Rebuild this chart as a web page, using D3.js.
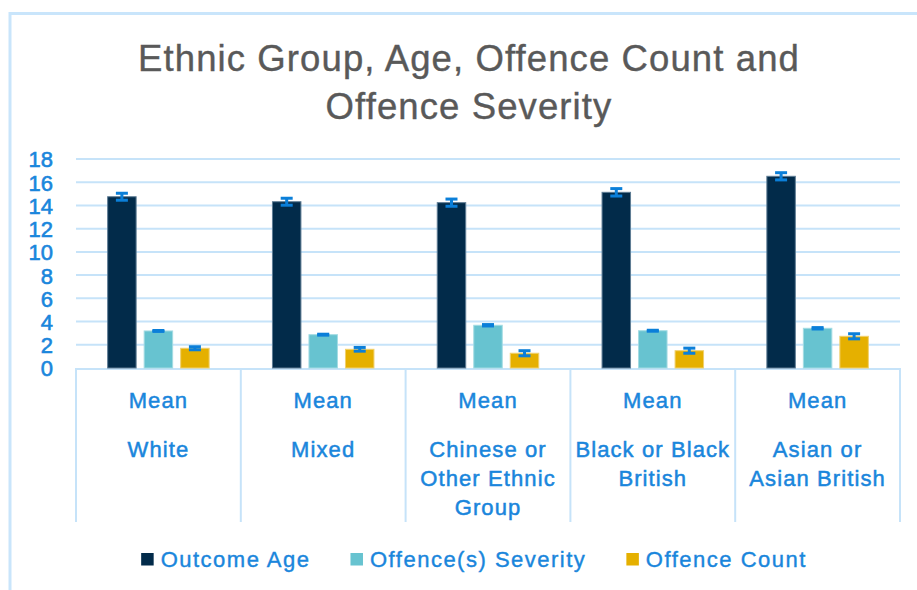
<!DOCTYPE html>
<html>
<head>
<meta charset="utf-8">
<script src="https://cdn.jsdelivr.net/npm/d3@7"></script>
<style>
  html, body { margin: 0; padding: 0; background: #fff; }
  svg { display: block; font-family: "Liberation Sans", Arial, Helvetica, sans-serif; }
</style>
</head>
<body>
<svg id="chart" width="917" height="590"></svg>
<script>
// Ethnic group chart — grouped bars with error bars
const categories = ['White', 'Mixed', 'Chinese or Other Ethnic Group', 'Black or Black British', 'Asian or Asian British'];
const categoryLines = [['White'], ['Mixed'], ['Chinese or', 'Other Ethnic', 'Group'], ['Black or Black', 'British'], ['Asian or', 'Asian British']];
const seriesNames = ['Outcome Age', 'Offence(s) Severity', 'Offence Count'];
const outcomeAge = [14.75, 14.32, 14.24, 15.13, 16.51];
const severity = [3.19, 2.87, 3.68, 3.21, 3.42];
const offenceCount = [1.70, 1.61, 1.27, 1.49, 2.73];
const outcomeAgeErr = [0.30, 0.30, 0.31, 0.32, 0.31];
const severityErr = [0.04, 0.04, 0.06, 0.04, 0.06];
const offenceCountErr = [0.13, 0.16, 0.22, 0.22, 0.22];
const yTicks = [0, 2, 4, 6, 8, 10, 12, 14, 16, 18];

const seriesValues = [outcomeAge, severity, offenceCount];
const seriesErrors = [outcomeAgeErr, severityErr, offenceCountErr];
const COLORS = ['#022b4a', '#67c3d0', '#e5b000'];
const STROKES = ['#5f7d95', '#a3dbe3', '#f0d06e'];
const BLUE = '#1a86dc';
const GRID = '#c6e3f9';

const svg = d3.select('#chart');

// Outer frame (left and top edges only are visible)
svg.append('line').attr('x1', 10).attr('x2', 10).attr('y1', 12).attr('y2', 590)
  .attr('stroke', '#c9e5fb').attr('stroke-width', 3);
svg.append('line').attr('x1', 9).attr('x2', 917).attr('y1', 13.5).attr('y2', 13.5)
  .attr('stroke', '#c9e5fb').attr('stroke-width', 3);

// Title
const title = svg.append('text')
  .attr('text-anchor', 'middle')
  .attr('fill', '#595959')
  .attr('stroke', '#595959')
  .attr('stroke-width', 0.4)
  .attr('font-size', 36.5)
  .attr('letter-spacing', 1.1);
title.append('tspan').attr('x', 469).attr('y', 70.5).text('Ethnic Group, Age, Offence Count and');
title.append('tspan').attr('x', 469).attr('y', 118.5).text('Offence Severity');

// Scales
const plotLeft = 76, plotRight = 900;
const y = d3.scaleLinear().domain([0, 18]).range([368, 159]);
const x0 = d3.scaleBand().domain(categories).range([plotLeft, plotRight]).padding(0);
const groupW = 101.5;
const x1 = d3.scaleBand().domain(seriesNames)
  .range([(x0.bandwidth() - groupW) / 2, (x0.bandwidth() + groupW) / 2])
  .paddingInner(0.22);

// Gridlines
svg.append('g').selectAll('line').data(yTicks.filter(t => t > 0)).join('line')
  .attr('x1', plotLeft).attr('x2', plotRight)
  .attr('y1', d => y(d)).attr('y2', d => y(d))
  .attr('stroke', GRID).attr('stroke-width', 2);

// Y axis labels
const yAxis = svg.append('g')
  .attr('transform', `translate(${plotLeft - 23},0)`)
  .call(d3.axisLeft(y).tickValues(yTicks).tickSize(0).tickPadding(0));
yAxis.select('.domain').remove();
yAxis.selectAll('text')
  .attr('fill', BLUE)
  .attr('stroke', BLUE)
  .attr('stroke-width', 0.6)
  .attr('font-size', 22)
  .attr('font-family', '"Liberation Sans", Arial, sans-serif')
  .attr('dy', '0.36em');

// Category axis box
const catBottom = 522;
svg.append('line').attr('x1', plotLeft - 1).attr('x2', plotRight + 1)
  .attr('y1', y(0) + 1).attr('y2', y(0) + 1)
  .attr('stroke', GRID).attr('stroke-width', 2);
const bounds = categories.map(c => x0(c)).concat([plotRight]);
svg.append('g').selectAll('line').data(bounds).join('line')
  .attr('x1', d => d).attr('x2', d => d)
  .attr('y1', y(0)).attr('y2', catBottom)
  .attr('stroke', GRID).attr('stroke-width', 2);

// Category labels
const catG = svg.append('g').selectAll('text').data(categories).join('text')
  .attr('text-anchor', 'middle')
  .attr('fill', BLUE)
  .attr('stroke', BLUE)
  .attr('stroke-width', 0.5)
  .attr('font-size', 22)
  .attr('letter-spacing', 1.1);
catG.append('tspan')
  .attr('x', d => x0(d) + x0.bandwidth() / 2)
  .attr('y', 408)
  .text('Mean');
catG.each(function(d, i) {
  const t = d3.select(this);
  categoryLines[i].forEach((line, j) => {
    t.append('tspan')
      .attr('x', x0(d) + x0.bandwidth() / 2)
      .attr('y', 456.5 + j * 29)
      .text(line);
  });
});

// Bars
const groups = svg.append('g').selectAll('g').data(categories).join('g')
  .attr('transform', d => `translate(${x0(d)},0)`);

groups.selectAll('rect')
  .data((d, i) => seriesNames.map((s, k) => ({ s, k, v: seriesValues[k][i] })))
  .join('rect')
  .attr('x', d => x1(d.s))
  .attr('y', d => y(d.v))
  .attr('width', x1.bandwidth())
  .attr('height', d => y(0) - y(d.v))
  .attr('fill', d => COLORS[d.k])
  .attr('stroke', d => STROKES[d.k])
  .attr('stroke-width', 1);

// Error bars
const errs = groups.selectAll('g.err')
  .data((d, i) => seriesNames.map((s, k) => ({ s, k, v: seriesValues[k][i], e: seriesErrors[k][i] })))
  .join('g')
  .attr('class', 'err')
  .attr('stroke', '#0b7fd9')
  .attr('stroke-width', 3);
const capW = 12;
errs.append('line')
  .attr('x1', d => x1(d.s) + x1.bandwidth() / 2)
  .attr('x2', d => x1(d.s) + x1.bandwidth() / 2)
  .attr('y1', d => y(d.v + d.e)).attr('y2', d => y(d.v - d.e));
errs.append('line')
  .attr('x1', d => x1(d.s) + x1.bandwidth() / 2 - capW / 2)
  .attr('x2', d => x1(d.s) + x1.bandwidth() / 2 + capW / 2)
  .attr('y1', d => y(d.v + d.e)).attr('y2', d => y(d.v + d.e));
errs.append('line')
  .attr('x1', d => x1(d.s) + x1.bandwidth() / 2 - capW / 2)
  .attr('x2', d => x1(d.s) + x1.bandwidth() / 2 + capW / 2)
  .attr('y1', d => y(d.v - d.e)).attr('y2', d => y(d.v - d.e));

// Legend
const legend = svg.append('g');
let lx = 0;
seriesNames.forEach((name, k) => {
  const item = legend.append('g').attr('transform', `translate(${lx},0)`);
  item.append('rect').attr('x', 0).attr('y', 553).attr('width', 12.5).attr('height', 12.5)
    .attr('fill', COLORS[k]);
  const t = item.append('text')
    .attr('x', 19.5).attr('y', 566.5)
    .attr('fill', BLUE)
    .attr('stroke', BLUE)
    .attr('stroke-width', 0.4)
    .attr('font-size', 22)
    .attr('letter-spacing', 1.5)
    .text(name);
  lx += 19.5 + t.node().getComputedTextLength() + 40;
});
const legW = lx - 40;
legend.attr('transform', `translate(${474 - legW / 2},0)`);
</script>
</body>
</html>
